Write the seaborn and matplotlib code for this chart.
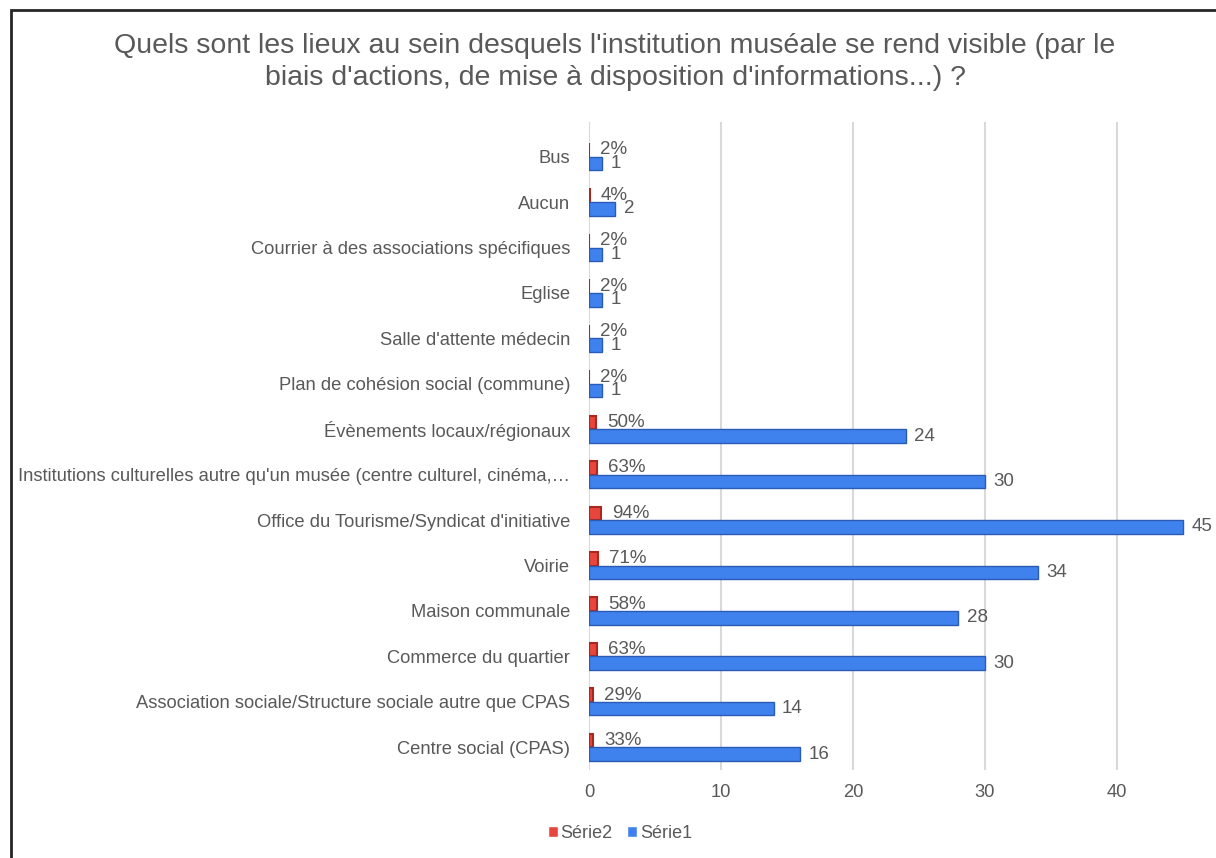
import pandas as pd
import matplotlib.pyplot as plt
import seaborn as sns
from matplotlib.patches import Patch, Rectangle

# data (top to bottom)
lieux = [
    "Bus",
    "Aucun",
    "Courrier à des associations spécifiques",
    "Eglise",
    "Salle d'attente médecin",
    "Plan de cohésion social (commune)",
    "Évènements locaux/régionaux",
    "Institutions culturelles autre qu'un musée (centre culturel, cinéma,…",
    "Office du Tourisme/Syndicat d'initiative",
    "Voirie",
    "Maison communale",
    "Commerce du quartier",
    "Association sociale/Structure sociale autre que CPAS",
    "Centre social (CPAS)",
]
serie1 = [1, 2, 1, 1, 1, 1, 24, 30, 45, 34, 28, 30, 14, 16]
serie2 = [0.02, 0.04, 0.02, 0.02, 0.02, 0.02, 0.50, 0.63, 0.94, 0.71, 0.58, 0.63, 0.29, 0.33]
series = ["Série2", "Série1"]
couleurs = {"Série2": "#E8453C", "Série1": "#3F82EE"}
bords = {"Série2": "#A8291F", "Série1": "#2A5BB5"}
titre = ("Quels sont les lieux au sein desquels l'institution muséale se rend visible (par le\n"
         "biais d'actions, de mise à disposition d'informations...) ?")

df = pd.concat([
    pd.DataFrame({"lieu": lieux, "serie": "Série2", "valeur": serie2}),
    pd.DataFrame({"lieu": lieux, "serie": "Série1", "valeur": serie1}),
])

sns.set_style("white")
plt.rcParams["font.family"] = ["Liberation Sans", "DejaVu Sans"]
gris = "#595959"

fig = plt.figure(figsize=(12.16, 8.58), dpi=100)
ax = fig.add_axes([589 / 1216, 1 - 770 / 858, (1196 - 589) / 1216, (770 - 122) / 858])

sns.barplot(data=df, y="lieu", x="valeur", hue="serie", hue_order=series,
            order=lieux, palette=couleurs, width=0.6, orient="h", ax=ax,
            saturation=1, legend=False)

for cont, s in zip(ax.containers, series):
    for p in cont:
        p.set_edgecolor(bords[s])
        p.set_linewidth(1.5 if s == "Série2" else 1)
    if s == "Série2":
        ax.bar_label(cont, labels=[f"{v:.0%}" for v in serie2], padding=8,
                     fontsize=13.5, color=gris)
    else:
        ax.bar_label(cont, labels=[str(v) for v in serie1], padding=6,
                     fontsize=13.5, color=gris)

ax.set_xlim(0, 46)
ax.set_ylim(13.5, -0.764)
ax.set_xticks([0, 10, 20, 30, 40])
ax.set_xlabel("")
ax.set_ylabel("")
ax.grid(axis="x", color="#D9D9D9", linewidth=1.5)
ax.set_axisbelow(True)
for sp in ax.spines.values():
    sp.set_visible(False)
ax.tick_params(axis="both", length=0, labelsize=13.2, labelcolor=gris)
ax.tick_params(axis="x", pad=10)
ax.tick_params(axis="y", pad=13.5)

fig.text(615 / 1216, 1 - 62 / 858, titre, ha="center", va="center",
         fontsize=20.5, color=gris, linespacing=1.3)

handles = [Patch(facecolor=couleurs[s], label=s) for s in series]
fig.legend(handles=handles, loc="center", bbox_to_anchor=(620 / 1216, 1 - 833 / 858),
           ncol=2, frameon=False, fontsize=13, handlelength=0.55, handleheight=0.55,
           handletextpad=0.15, columnspacing=0.8, labelcolor=gris)

# chart frame
fig.patches.append(Rectangle((11 / 1216, -0.01), 1.0, 1 - 10 / 858 + 0.01,
                             transform=fig.transFigure, fill=False,
                             edgecolor="#262626", linewidth=2))

plt.savefig("out.png", dpi=100)
